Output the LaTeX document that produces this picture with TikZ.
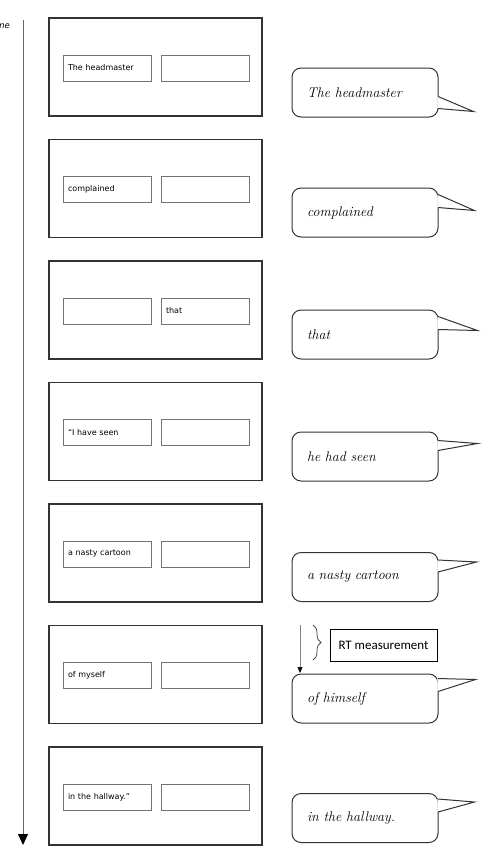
\documentclass[tikz,border=0pt]{standalone}
\usepackage{fontspec}
\usetikzlibrary{calc, positioning}
\usetikzlibrary{arrows.meta, decorations.pathreplacing}

\newfontfamily\boxfont{DejaVu Sans}
\newfontfamily\rtfont{Carlito}

\newcommand{\bubbletail}[5]{%
  \fill[white] ($(#1.north east)+(-1.2,#2)$) -- ($(#1.north east)+(#3,#4)$) -- ($(#1.north east)+(-1.2,#5)$) -- cycle;
  \draw[line width=1pt, black!80] ($(#1.north east)+(-0.5,#2)$) -- ($(#1.north east)+(#3,#4)$) -- ($(#1.north east)+(-0.5,#5)$);
}

\begin{document}
\begin{tikzpicture}[x=1pt, y=-1pt,
    frame/.style={draw=black!80, line width=1.5pt, minimum width=213pt, minimum height=98pt, inner sep=0pt},
    word/.style={draw=black!55, line width=1pt, minimum width=88pt, minimum height=26pt, text width=78pt,
        inner xsep=5pt, inner ysep=0pt, align=left, font=\boxfont\fontsize{8}{10}\selectfont},
    bubble/.style={draw=black!80, fill=white, line width=1pt, rounded corners=9pt, text width=116pt,
        inner xsep=15pt, minimum height=49pt, align=left, font=\fontsize{14}{16}\selectfont\itshape}]
            \useasboundingbox (0,0) rectangle (487,847);

            \coordinate (t0) at (23,20);
            \coordinate (t1) at (23,845);
            \draw[black!60, line width=0.9pt, -{Triangle[width=10pt,length=11pt,black]}] (t0) -- (t1);
            \node[anchor=base east, font=\boxfont\fontsize{8.5}{10}\selectfont\itshape] (time) at (13.5,28) {Time};

            \node[frame] (f1) at (155.5,67) {};
            \node[frame, below=22pt of f1] (f2) {};
            \node[frame, below=22pt of f2] (f3) {};
            \node[frame, below=22pt of f3] (f4) {};
            \node[frame, below=22pt of f4] (f5) {};
            \node[frame, below=22pt of f5] (f6) {};
            \node[frame, below=22pt of f6] (f7) {};

            \node[word] (w1) at ($(f1.center)+(-48.5,1)$) {The headmaster};
            \node[word, right=9pt of w1] (v1) {};
            \node[word] (w2) at ($(f2.center)+(-48.5,1)$) {complained};
            \node[word, right=9pt of w2] (v2) {};
            \node[word] (w3) at ($(f3.center)+(-48.5,1)$) {};
            \node[word, right=9pt of w3] (v3) {that};
            \node[word] (w4) at ($(f4.center)+(-48.5,1)$) {“I have seen};
            \node[word, right=9pt of w4] (v4) {};
            \node[word] (w5) at ($(f5.center)+(-48.5,1)$) {a nasty cartoon};
            \node[word, right=9pt of w5] (v5) {};
            \node[word] (w6) at ($(f6.center)+(-48.5,1)$) {of myself};
            \node[word, right=9pt of w6] (v6) {};
            \node[word] (w7) at ($(f7.center)+(-48.5,1)$) {in the hallway.”};
            \node[word, right=9pt of w7] (v7) {};

            \node[bubble] (b1) at (365,92.5) {The headmaster};
            \bubbletail{b1}{29}{35}{44}{41}
            \node[bubble] (b2) at (365,212.5) {complained};
            \bubbletail{b2}{7}{36}{23}{20}
            \node[bubble] (b3) at (365,334.5) {that};
            \bubbletail{b3}{7}{39}{21}{20}
            \node[bubble] (b4) at (365,456.5) {he had seen};
            \bubbletail{b4}{9}{39}{12}{19}
            \node[bubble] (b5) at (365,577) {a nasty cartoon};
            \bubbletail{b5}{8}{38}{10}{20}
            \node[bubble] (b6) at (365,698.5) {of himself};
            \bubbletail{b6}{5}{37}{6}{18}
            \node[bubble] (b7) at (365,818) {in the hallway.};
            \bubbletail{b7}{6}{36}{9}{19}

            \node[draw, line width=0.8pt, minimum width=107pt, minimum height=32pt,
                font=\rtfont\fontsize{13}{15}\selectfont] (rt) at (383.5,645) {RT measurement};
            \coordinate (br0) at (313,625);
            \coordinate (br1) at (313,660);
            \draw[black!70, line width=0.8pt, decorate, decoration={brace, amplitude=8pt}] (br0) -- (br1);
            \coordinate (a0) at (300,625);
            \coordinate (a1) at (300,673);
            \draw[black!50, line width=0.7pt, -{Triangle[width=5pt,length=6pt,black]}] (a0) -- (a1);

\end{tikzpicture}
\end{document}
